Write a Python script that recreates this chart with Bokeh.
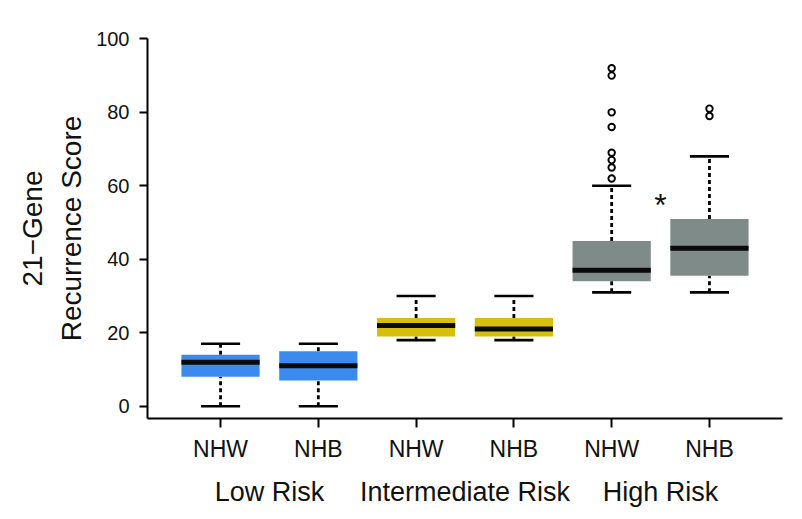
from bokeh.plotting import figure
from bokeh.models import ColumnDataSource, FixedTicker, LinearAxis, Range1d
from bokeh.embed import file_html
from bokeh.resources import INLINE
from bokeh.core.properties import value

# ---- data ----
risk_groups = ["Low Risk", "Intermediate Risk", "High Risk"]
group_positions = [1.5, 3.5, 5.5]
races = ["NHW", "NHB", "NHW", "NHB", "NHW", "NHB"]
positions = [1, 2, 3, 4, 5, 6]
lower_whisker = [0, 0, 18, 18, 31, 31]
q1 = [8, 7, 19, 19, 34, 35.5]
median = [12, 11, 22, 21, 37, 43]
q3 = [14, 15, 24, 24, 45, 51]
upper_whisker = [17, 17, 30, 30, 60, 68]
box_colors = ["#3b8bef", "#3b8bef", "#d6bf0a", "#d6bf0a", "#7e8b89", "#7e8b89"]

outlier_x = [5, 5, 5, 5, 5, 5, 5, 5, 6, 6]
outlier_y = [92, 90, 80, 76, 69, 67, 65, 62, 81, 79]

y_ticks = [0, 20, 40, 60, 80, 100]
sig_x = [5.5]
sig_y = [55.2]
sig_text = ["*"]

FONT = "Liberation Sans"
TXT = "#111111"

src = ColumnDataSource(dict(pos=positions, lo=lower_whisker, q1=q1, med=median,
                            q3=q3, hi=upper_whisker, color=box_colors))

p = figure(width=794, height=511, output_backend="svg", toolbar_location=None,
           x_range=Range1d(0.253, 6.747), y_range=Range1d(-3.34, 100.1),
           x_axis_type=None, y_axis_type=None,
           min_border_left=147, min_border_right=12, min_border_top=38, min_border_bottom=93)
p.outline_line_color = None
p.xgrid.visible = False
p.ygrid.visible = False
p.background_fill_color = "white"
p.border_fill_color = "white"

# whiskers (dotted)
p.segment(x0="pos", y0="q3", x1="pos", y1="hi", source=src, line_color="black",
          line_width=2.8, line_dash="4 3")
p.segment(x0="pos", y0="lo", x1="pos", y1="q1", source=src, line_color="black",
          line_width=2.8, line_dash="4 3")
# caps
p.rect(x="pos", y="hi", width=0.4, height=2.6, height_units="screen", source=src,
       fill_color="black", line_color=None)
p.rect(x="pos", y="lo", width=0.4, height=2.6, height_units="screen", source=src,
       fill_color="black", line_color=None)
# boxes
p.vbar(x="pos", width=0.8, bottom="q1", top="q3", source=src, fill_color="color",
       line_color=None)
# medians
p.rect(x="pos", y="med", width=0.8, height=5, height_units="screen", source=src,
       fill_color="#0a0a0a", line_color=None)
# outliers
p.scatter(x=outlier_x, y=outlier_y, marker="circle", size=6.5, fill_color=None,
          line_color="black", line_width=1.9)
# significance asterisk
p.text(x=sig_x, y=sig_y, text=sig_text, text_font=value(FONT), text_font_size="32px",
       text_align="center", text_baseline="middle", y_offset=2, text_color=TXT)

# y axis (inner) with ticks
yaxis = LinearAxis(ticker=FixedTicker(ticks=y_ticks, minor_ticks=[]),
                   axis_label="Recurrence Score")
yaxis.axis_line_width = 2
yaxis.axis_line_color = "black"
yaxis.major_tick_line_width = 2
yaxis.major_tick_line_color = "black"
yaxis.major_tick_out = 8
yaxis.major_tick_in = 0
yaxis.minor_tick_line_color = None
yaxis.major_label_standoff = 10
yaxis.major_label_text_font = FONT
yaxis.major_label_text_font_size = "20px"
yaxis.major_label_text_color = TXT
yaxis.axis_label_text_font = FONT
yaxis.axis_label_text_font_size = "28px"
yaxis.axis_label_text_font_style = "normal"
yaxis.axis_label_text_color = TXT
yaxis.axis_label_standoff = 6
p.add_layout(yaxis, "left")

# y axis (outer) carrying the first label line
yaxis2 = LinearAxis(ticker=FixedTicker(ticks=[], minor_ticks=[]), axis_label="21\u2212Gene")
yaxis2.axis_line_color = None
yaxis2.major_tick_line_color = None
yaxis2.minor_tick_line_color = None
yaxis2.major_label_text_font_size = "0px"
yaxis2.axis_label_text_font = FONT
yaxis2.axis_label_text_font_size = "28px"
yaxis2.axis_label_text_font_style = "normal"
yaxis2.axis_label_text_color = TXT
yaxis2.axis_label_standoff = 6
p.add_layout(yaxis2, "left")

# x axis with race labels
xaxis = LinearAxis(ticker=FixedTicker(ticks=positions, minor_ticks=[]),
                   major_label_overrides={pp: r for pp, r in zip(positions, races)})
xaxis.axis_line_width = 2
xaxis.axis_line_color = "black"
xaxis.major_tick_line_width = 2
xaxis.major_tick_line_color = "black"
xaxis.major_tick_out = 9
xaxis.major_tick_in = 0
xaxis.minor_tick_line_color = None
xaxis.major_label_standoff = 8
xaxis.major_label_text_font = FONT
xaxis.major_label_text_font_size = "23px"
xaxis.major_label_text_color = TXT
p.add_layout(xaxis, "below")

# group labels
gaxis = LinearAxis(ticker=FixedTicker(ticks=group_positions, minor_ticks=[]),
                   major_label_overrides={gp: g for gp, g in zip(group_positions, risk_groups)})
gaxis.axis_line_color = None
gaxis.major_tick_line_color = None
gaxis.minor_tick_line_color = None
gaxis.major_tick_out = 0
gaxis.major_tick_in = 0
gaxis.major_label_standoff = 12
gaxis.major_label_text_font = FONT
gaxis.major_label_text_font_size = "27px"
gaxis.major_label_text_color = TXT
p.add_layout(gaxis, "below")

open("out.html", "w").write(file_html(p, INLINE))
